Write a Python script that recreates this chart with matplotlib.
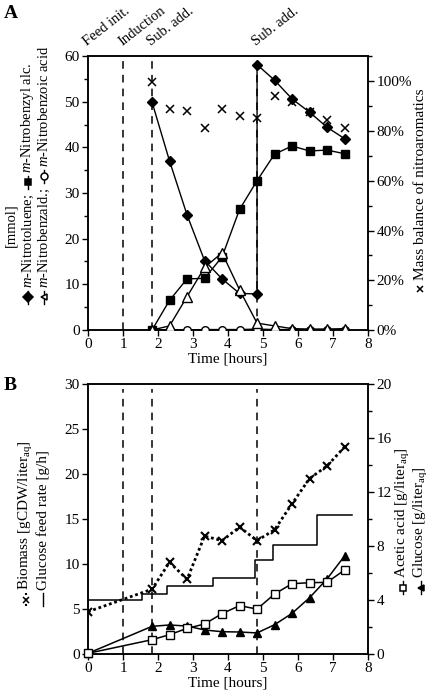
import numpy as np
import matplotlib
matplotlib.use("Agg")
import matplotlib.pyplot as plt
from matplotlib.lines import Line2D
from matplotlib.ticker import MultipleLocator, FuncFormatter

plt.rcParams['font.family'] = ['Liberation Serif', 'DejaVu Sans']
plt.rcParams['font.size'] = 11
plt.rcParams['mathtext.fontset'] = 'custom'
plt.rcParams['mathtext.rm'] = 'Liberation Serif'
plt.rcParams['mathtext.it'] = 'Liberation Serif:italic'

# ---- panel A data (mmol, % mass balance) ----
t_a = [1.83, 2.33, 2.83, 3.33, 3.83, 4.33, 4.83, 5.33, 5.83, 6.33, 6.83, 7.33]
# toluene has the second substrate addition at 4.83 h
t_tol = [1.83, 2.33, 2.83, 3.33, 3.83, 4.33, 4.83, 4.83, 5.33, 5.83, 6.33, 6.83, 7.33]
toluene = [49.9, 37.0, 25.2, 15.2, 11.2, 8.0, 7.9, 58.1, 54.7, 50.6, 47.7, 44.4, 41.9]
benzyl_alc = [0.0, 6.5, 11.2, 11.3, 16.0, 26.4, 32.7, 38.5, 40.3, 39.2, 39.4, 38.6]
benzald = [0.0, 0.9, 7.3, 13.7, 16.9, 8.8, 1.5, 0.9, 0.3, 0.2, 0.2, 0.3]
benzoic = [0.0, 0.1, 0.0, 0.1, 0.1, 0.1, 0.2, 0.1, 0.1, 0.1, 0.1, 0.1]
mass_bal = [99.9, 89.0, 88.1, 81.4, 89.0, 86.2, 85.1, 94.3, 91.5, 87.5, 84.3, 81.1]

events_t = [0, 1, 1.83, 4.83]
events_lbl = ["Feed init.", "Induction", "Sub. add.", "Sub. add."]
dashed_t = [1, 1.83, 4.83]

# ---- panel B data ----
t_b = [0, 1.83, 2.33, 2.83, 3.33, 3.83, 4.33, 4.83, 5.33, 5.83, 6.33, 6.83, 7.33]
biomass = [4.7, 7.2, 10.2, 8.3, 13.1, 12.6, 14.1, 12.6, 13.8, 16.7, 19.5, 20.9, 23.0]
acetic = [0.05, 1.06, 1.43, 1.90, 2.22, 2.99, 3.58, 3.33, 4.44, 5.21, 5.28, 5.31, 6.22]
glucose = [0.05, 2.05, 2.15, 2.07, 1.78, 1.65, 1.63, 1.56, 2.17, 3.01, 4.17, 5.56, 7.26]
feed_t = [0, 1.53, 2.25, 3.56, 4.77, 5.28, 6.55, 7.55]
feed_rate = [6.0, 6.7, 7.6, 8.4, 10.5, 12.1, 15.4]

fig = plt.figure(figsize=(4.33, 6.97), dpi=100)
W, H = 433, 697
renderer = fig.canvas.get_renderer()

def ax_rect(l, t, r, b):
    return [l / W, 1 - b / H, (r - l) / W, (b - t) / H]

def style(ax):
    ax.tick_params(direction='out', length=4, width=1, labelsize=11, pad=2)
    ax.tick_params(which='minor', direction='out', length=3, width=1)
    for s in ax.spines.values():
        s.set_linewidth(1.1)

def vlabel(x, y, items, gap=3, fs=10.5):
    # rotated label built bottom-up: ('mk', marker, facecolor, linestyle) or text
    for it in items:
        if isinstance(it, tuple):
            _, m, fc, ls = it
            seg = 13
            if ls != 'none':
                fig.add_artist(Line2D([x / W, x / W], [1 - y / H, 1 - (y - seg) / H],
                                      transform=fig.transFigure, color='black',
                                      lw=1.5 if ls == ':' else 1, ls=ls))
            fig.add_artist(Line2D([x / W], [1 - (y - seg / 2) / H], transform=fig.transFigure,
                                  marker=m, ms=5, mfc=fc, mec='black', mew=1.1,
                                  color='black', ls='none'))
            y -= seg + gap
        else:
            t = fig.text(x / W, 1 - y / H, it, rotation=90, rotation_mode='anchor',
                         ha='left', va='center', fontsize=fs)
            y -= t.get_window_extent(renderer).height + gap + 2

# ================= panel A =================
axA = fig.add_axes(ax_rect(88, 56, 368, 330))
axA2 = axA.twinx()
axA.set_zorder(axA2.get_zorder() + 1)
axA.patch.set_visible(False)

for t in dashed_t:
    axA.plot([t, t], [0, 60], color='black', lw=1.1, ls=(0, (5, 4)), zorder=1)

axA.plot(t_tol, toluene, color='black', lw=1, marker='D', ms=5,
         mfc='black', mec='black', zorder=4)
axA.plot(t_a, benzyl_alc, color='black', lw=1, marker='s', ms=6,
         mfc='black', mec='black', zorder=4)
axA.plot(t_a, benzald, color='black', lw=1, marker='^', ms=6.5,
         mfc='white', mec='black', mew=1, zorder=4)
axA.plot(t_a, benzoic, color='black', lw=1, marker='o', ms=5.5,
         mfc='white', mec='black', mew=1, zorder=3)
axA2.plot(t_a, mass_bal, ls='none', marker='x', ms=5.5, mew=1.1, color='black')

axA.set_xlim(0, 8)
axA.set_ylim(0, 60)
axA2.set_ylim(0, 110.2)
axA.xaxis.set_major_locator(MultipleLocator(1))
axA.yaxis.set_major_locator(MultipleLocator(10))
axA.yaxis.set_minor_locator(MultipleLocator(5))
axA2.yaxis.set_major_locator(MultipleLocator(20))
axA2.yaxis.set_minor_locator(MultipleLocator(10))
axA2.yaxis.set_major_formatter(FuncFormatter(lambda v, p: "%d%%" % v if v <= 100 else ""))
style(axA)
style(axA2)
axA.set_xlabel("Time [hours]", fontsize=11, labelpad=1)

for t, lbl in zip(events_t, events_lbl):
    axA.text(t - 0.02, 62.2, lbl, rotation=38, rotation_mode='anchor',
             ha='left', va='baseline', fontsize=10.5)

fig.text(4 / W, 1 - 14 / H, "A", fontsize=14, fontweight='bold', ha='left', va='center')

fig.text(11 / W, 1 - 225 / H, "[mmol]", rotation=90, ha='center', va='center', fontsize=10.5)
vlabel(28, 304, [('mk', 'D', 'black', '-'), "$\\it{m}$-Nitrotoluene;",
                 ('mk', 's', 'black', '-'), "$\\it{m}$-Nitrobenzyl alc."])
vlabel(44, 304, [('mk', '<', 'white', '-'), "$\\it{m}$-Nitrobenzald.;",
                 ('mk', 'o', 'white', '-'), "$\\it{m}$-Nitrobenzoic acid"])
vlabel(420, 296, [('mk', 'x', 'black', 'none'), "Mass balance of nitroaromatics"], fs=11)

# ================= panel B =================
axB = fig.add_axes(ax_rect(88, 384, 368, 654))
axB2 = axB.twinx()
axB.set_zorder(axB2.get_zorder() + 1)
axB.patch.set_visible(False)

for t in dashed_t:
    axB.plot([t, t], [0, 29.5], color='black', lw=1.1, ls=(0, (5, 4)), zorder=1)

axB.step(feed_t, feed_rate + [feed_rate[-1]], where='post', color='black', lw=1.1, zorder=2)
axB.plot(t_b, biomass, color='black', lw=2, ls=(0, (1, 1)), marker='x', ms=5.5,
         mew=1.5, zorder=3)

axB.set_xlim(0, 8)
axB.set_ylim(0, 30)
axB2.set_ylim(0, 20)
axB.xaxis.set_major_locator(MultipleLocator(1))
axB.yaxis.set_major_locator(MultipleLocator(5))
axB2.yaxis.set_major_locator(MultipleLocator(4))
axB2.yaxis.set_minor_locator(MultipleLocator(2))
style(axB)
style(axB2)
axB.set_xlabel("Time [hours]", fontsize=11, labelpad=1)

# right-axis series drawn on top
axB3 = axB.twinx()
axB3.set_ylim(0, 20)
axB3.axis('off')
axB3.plot(t_b, glucose, color='black', lw=1.1, marker='^', ms=6,
          mfc='black', mec='black', clip_on=False)
axB3.plot(t_b, acetic, color='black', lw=1.1, marker='s', ms=6,
          mfc='white', mec='black', mew=1, clip_on=False)

fig.text(4 / W, 1 - 386 / H, "B", fontsize=14, fontweight='bold', ha='left', va='center')

vlabel(26, 606, [('mk', 'x', 'black', ':'), "Biomass [gCDW/liter$_{\\mathrm{aq}}$]"], fs=11)
vlabel(43, 606, [('mk', 'none', 'black', '-'), "Glucose feed rate [g/h]"], fs=11)
vlabel(403, 594, [('mk', 's', 'white', '-'), "Acetic acid [g/liter$_{\\mathrm{aq}}$]"], fs=11)
vlabel(421, 594, [('mk', '<', 'black', '-'), "Glucose [g/liter$_{\\mathrm{aq}}$]"], fs=11)

fig.savefig("out.png", dpi=100)
